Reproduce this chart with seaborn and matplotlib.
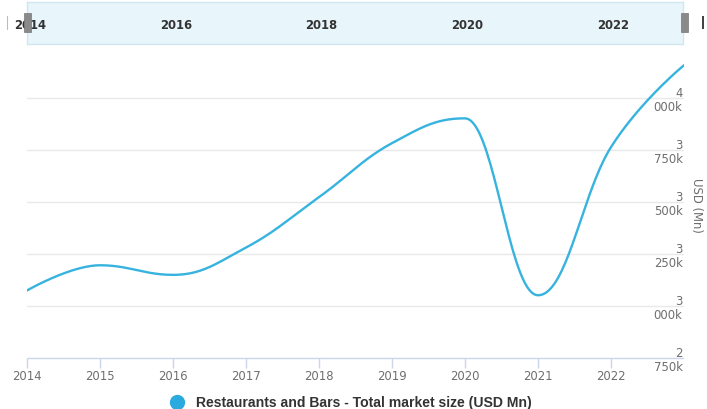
import numpy as np
import pandas as pd
import matplotlib
matplotlib.use("Agg")
import matplotlib.pyplot as plt
from matplotlib.lines import Line2D
from matplotlib.patches import Rectangle
import seaborn as sns

# Restaurants and Bars - total market size, USD Mn
years = [2014, 2015, 2016, 2017, 2018, 2019, 2020, 2021, 2022, 2023]
market_size = [3074, 3195, 3149, 3280, 3522, 3781, 3900, 3051, 3762, 4155]

y_ticks = [2750, 3000, 3250, 3500, 3750, 4000]
y_tick_labels = ["2\n750k", "3\n000k", "3\n250k", "3\n500k", "3\n750k", "4\n000k"]
x_ticks = [2014, 2015, 2016, 2017, 2018, 2019, 2020, 2021, 2022]
nav_labels = [2014, 2016, 2018, 2020, 2022]

series_name = "Restaurants and Bars - Total market size (USD Mn)"
LINE_COLOR = "#36b3de"
GRID_COLOR = "#e9e9e9"
AXIS_COLOR = "#ccd6eb"
LABEL_COLOR = "#6e6e6e"


def spline_path(xs, ys, smoothing=1.5, n=40):
    """Smooth spline through the points, cubic Bezier segments with
    control points clamped so extremes sit on the data points."""
    xs = np.asarray(xs, float)
    ys = np.asarray(ys, float)
    m = len(xs)
    denom = smoothing + 1
    left = [(xs[i], ys[i]) for i in range(m)]
    right = [(xs[i], ys[i]) for i in range(m)]
    for i in range(1, m - 1):
        px, py = xs[i], ys[i]
        lx, ly = xs[i - 1], ys[i - 1]
        nx, ny = xs[i + 1], ys[i + 1]
        lcx = (smoothing * px + lx) / denom
        lcy = (smoothing * py + ly) / denom
        rcx = (smoothing * px + nx) / denom
        rcy = (smoothing * py + ny) / denom
        if rcx != lcx:
            corr = ((rcy - lcy) * (rcx - px)) / (rcx - lcx) + py - rcy
            lcy += corr
            rcy += corr
            if lcy > ly and lcy > py:
                lcy = max(ly, py)
                rcy = 2 * py - lcy
            elif lcy < ly and lcy < py:
                lcy = min(ly, py)
                rcy = 2 * py - lcy
            if rcy > ny and rcy > py:
                rcy = max(ny, py)
                lcy = 2 * py - rcy
            elif rcy < ny and rcy < py:
                rcy = min(ny, py)
                lcy = 2 * py - rcy
        left[i] = (lcx, lcy)
        right[i] = (rcx, rcy)
    out_x, out_y = [], []
    t = np.linspace(0, 1, n)
    for i in range(m - 1):
        p0 = np.array([xs[i], ys[i]])
        p1 = np.array(right[i])
        p2 = np.array(left[i + 1])
        p3 = np.array([xs[i + 1], ys[i + 1]])
        seg = ((1 - t) ** 3)[:, None] * p0 + (3 * (1 - t) ** 2 * t)[:, None] * p1 \
            + (3 * (1 - t) * t ** 2)[:, None] * p2 + (t ** 3)[:, None] * p3
        if i > 0:
            seg = seg[1:]
        out_x.extend(seg[:, 0])
        out_y.extend(seg[:, 1])
    return np.array(out_x), np.array(out_y)


sns.set_theme(style="white")
plt.rcParams["font.family"] = ["DejaVu Sans"]

W, H = 707, 410
fig = plt.figure(figsize=(W / 100, H / 100), dpi=100)

# main plot area in pixels: x 27..684, y 60..359
left_px, right_px, top_px, bottom_px = 27, 684, 60, 359
ax = fig.add_axes([left_px / W, 1 - bottom_px / H,
                   (right_px - left_px) / W, (bottom_px - top_px) / H])

sx, sy = spline_path(years, market_size)
curve = pd.DataFrame({"year": sx, "value": sy})
sns.lineplot(data=curve, x="year", y="value", ax=ax, sort=False, estimator=None,
             color=LINE_COLOR, linewidth=1.7, legend=False)

y_min = 2750
y_max = 2750 + (bottom_px - top_px) / 52.1 * 250
ax.set_xlim(2014, 2023)
ax.set_ylim(y_min, y_max)
ax.set_xlabel("")
ax.set_ylabel("")

for s in ax.spines.values():
    s.set_visible(False)
ax.axhline(y_min, color=AXIS_COLOR, lw=1.0, zorder=1, clip_on=False,
           xmax=(683 - left_px) / (right_px - left_px))
for yv in y_ticks[1:]:
    ax.axhline(yv, color=GRID_COLOR, lw=1.0, zorder=0,
               xmax=(683 - left_px) / (right_px - left_px))

ax.set_xticks(x_ticks)
ax.set_xticklabels([str(x) for x in x_ticks], fontsize=8.4, color=LABEL_COLOR)
ax.tick_params(axis="x", bottom=True, length=7, width=1, color=AXIS_COLOR,
               pad=1, direction="out")

ax.yaxis.tick_right()
ax.set_yticks(y_ticks)
ax.set_yticklabels(y_tick_labels, fontsize=8.4, color=LABEL_COLOR,
                   linespacing=1.1)
ax.tick_params(axis="y", right=False, left=False, length=0, pad=-1)
for lab in ax.get_yticklabels():
    lab.set_horizontalalignment("right")

fig.text(697 / W, 1 - 205 / H, "USD (Mn)", rotation=-90, ha="center",
         va="center", fontsize=8.4, color=LABEL_COLOR)

# range navigator strip along the top
nav = fig.add_axes([left_px / W, 1 - 45 / H, (683 - left_px) / W, 42 / H])
nav.set_xlim(2014, 2023)
nav.set_ylim(0, 1)
nav.set_facecolor("#e8f6fc")
for s in nav.spines.values():
    s.set_color("#d2e6ef")
    s.set_linewidth(1)
nav.set_xticks([])
nav.set_yticks([])
for yr in nav_labels:
    nav.text(yr + 0.04, 0.47, str(yr), ha="center", va="center",
             fontsize=8.4, fontweight="bold", color="#333333", clip_on=False)

for hx in (24, 681):
    fig.add_artist(Rectangle((hx / W, 1 - 33 / H), 6.5 / W, 19 / H,
                             transform=fig.transFigure, facecolor="#8a8a8a",
                             edgecolor="#777777", lw=0.5, zorder=10))
fig.add_artist(Line2D([7 / W, 7 / W], [1 - 30 / H, 1 - 17 / H],
                      transform=fig.transFigure, color="#bbbbbb", lw=0.8))
fig.add_artist(Rectangle((702 / W, 1 - 30 / H), 2 / W, 13 / H,
                         transform=fig.transFigure, facecolor="#444444",
                         edgecolor="none"))

# legend below the plot
fig.add_artist(Line2D([177 / W], [1 - 403 / H], transform=fig.transFigure,
                      marker="o", markersize=10, color="#2aaade", lw=0))
fig.text(196 / W, 1 - 403 / H, series_name, ha="left", va="center",
         fontsize=10.1, fontweight="bold", color="#333333",
         family=["Liberation Sans", "DejaVu Sans"])

fig.savefig("out.png", dpi=100)
